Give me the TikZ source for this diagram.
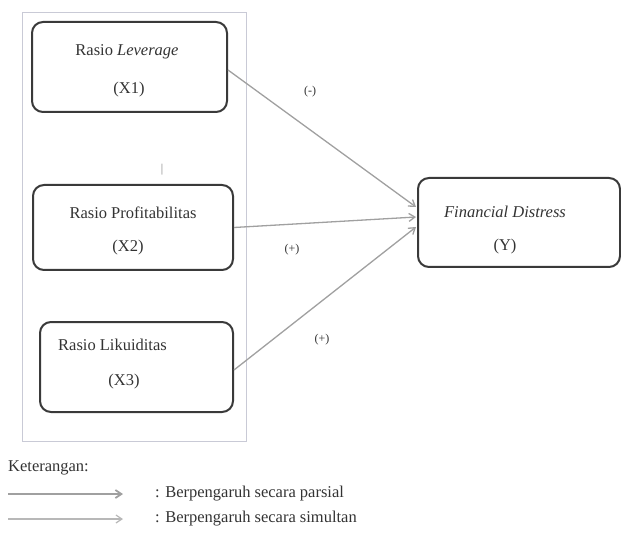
\documentclass[tikz,border=0pt]{standalone}
\usepackage{fontspec}
\setmainfont{Liberation Serif}
\usetikzlibrary{arrows.meta,calc}
\definecolor{boxline}{HTML}{3A3A3A}
\definecolor{arrowgray}{HTML}{A0A0A0}
\definecolor{framegray}{HTML}{C9CAD6}
\definecolor{txt}{HTML}{333333}
\tikzset{
  varbox/.style={draw=boxline, line width=2pt, rounded corners=11pt, fill=white, inner sep=0pt},
  lbl/.style={inner sep=0pt, text=txt, font=\fontsize{16.5}{19}\selectfont},
  sml/.style={inner sep=0pt, text=txt, font=\fontsize{12}{14}\selectfont},
  infl/.style={draw=arrowgray, line width=1.3pt, -{Straight Barb[length=6pt,width=8pt]}},
}
\begin{document}
\begin{tikzpicture}[x=1pt,y=-1pt]
\useasboundingbox (0,0) rectangle (621,537);
% frame around independent variables
\draw[framegray, line width=1pt] (22,13) rectangle (246,441);
% boxes
\node[varbox, minimum width=195pt, minimum height=90pt] (x1) at (129.5,67) {};
\node[varbox, minimum width=200pt, minimum height=85pt] (x2) at (133,227.5) {};
\node[varbox, minimum width=193pt, minimum height=90pt] (x3) at (136.5,367) {};
\node[varbox, minimum width=202pt, minimum height=89pt] (y) at (519,222.5) {};
% texts
\node[lbl] (t1) at (127,52) {Rasio \textit{Leverage}};
\node[lbl] (t1b) at (129,90) {(X1)};
\node[lbl] (t2) at (133,213) {Rasio Profitabilitas};
\node[lbl] (t2b) at (128,248) {(X2)};
\node[lbl] (t3) at (112.5,345) {Rasio Likuiditas};
\node[lbl] (t3b) at (124,382) {(X3)};
\node[lbl] (ty) at (505,212) {\textit{Financial Distress}};
\node[lbl] (tyb) at (505,247) {(Y)};
\node[sml, text=gray] (tick) at (162,170) {|};
% arrows
\coordinate (e1) at ($(y.west)+(-1,-15.5)$);
\coordinate (e2) at ($(y.west)+(-1,-5.5)$);
\coordinate (e3) at ($(y.west)+(-1,4.5)$);
\coordinate (s1) at ($(x1.east)+(0,3)$);
\coordinate (s3) at ($(x3.east)+(0,3)$);
\draw[infl] (s1) -- (e1);
\draw[infl] (x2.east) -- (e2);
\draw[infl] (s3) -- (e3);
\node[sml] (l1) at (310,92) {(-)};
\node[sml] (l2) at (292,250) {(+)};
\node[sml] (l3) at (322,340) {(+)};
% legend
\node[lbl, anchor=west] (ket) at (8,468) {Keterangan:};
\coordinate (a1s) at (8,494);
\coordinate (a1e) at (123,494);
\coordinate (a2s) at (8,519);
\coordinate (a2e) at (123,519);
\draw[infl, line width=1.8pt] (a1s) -- (a1e);
\draw[infl, draw=arrowgray!75, line width=1.2pt] (a2s) -- (a2e);
\node[lbl, anchor=west] (k1) at (155,494) {: Berpengaruh secara parsial};
\node[lbl, anchor=west] (k2) at (155,519) {: Berpengaruh secara simultan};
\end{tikzpicture}
\end{document}
